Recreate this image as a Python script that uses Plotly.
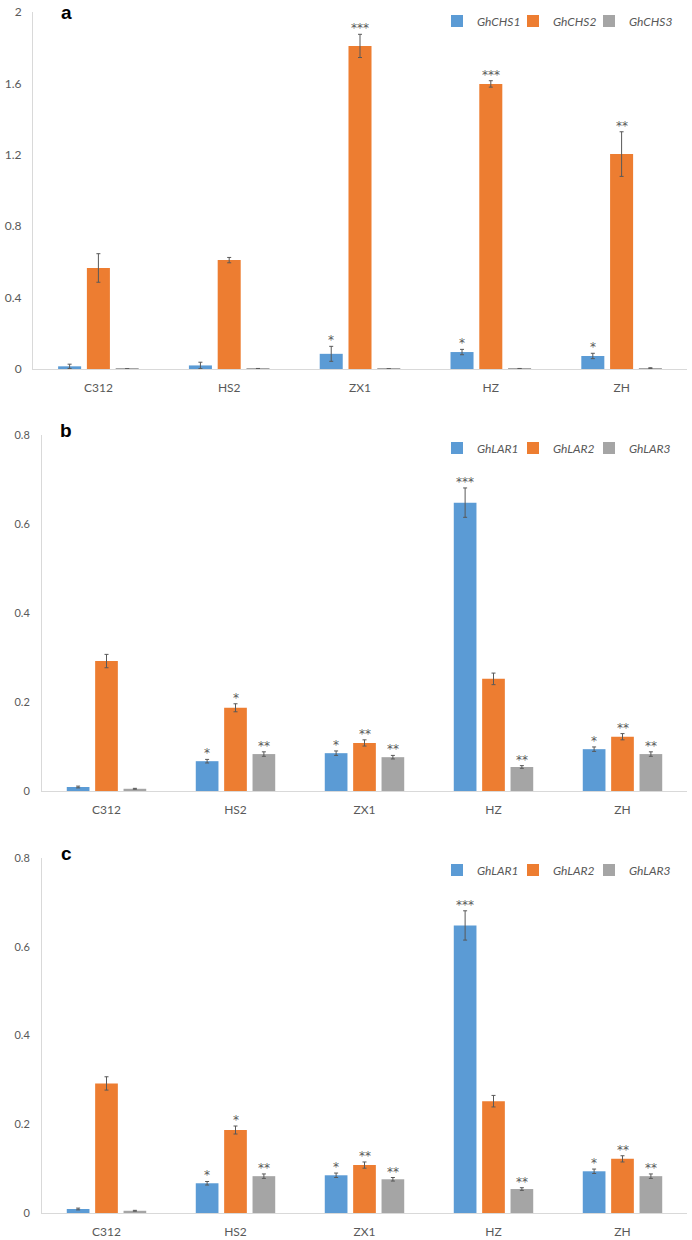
"""Grouped bar charts of GhCHS and GhLAR expression in five cotton lines."""

import plotly.graph_objects as go

CATEGORIES = ["C312", "HS2", "ZX1", "HZ", "ZH"]

# panel a
CHS1 = [0.015, 0.020, 0.085, 0.095, 0.073]
CHS1_ERR = [0.012, 0.018, 0.042, 0.015, 0.015]
CHS2 = [0.566, 0.610, 1.810, 1.597, 1.204]
CHS2_ERR = [0.080, 0.015, 0.065, 0.018, 0.125]
CHS3 = [0.001, 0.002, 0.001, 0.002, 0.005]
CHS3_ERR = [0.0, 0.001, 0.0, 0.001, 0.002]
CHS1_SIG = ["", "", "*", "*", "*"]
CHS2_SIG = ["", "", "***", "***", "**"]
CHS3_SIG = ["", "", "", "", ""]

# panels b and c
LAR1 = [0.009, 0.067, 0.085, 0.648, 0.094]
LAR1_ERR = [0.002, 0.004, 0.005, 0.033, 0.005]
LAR2 = [0.292, 0.187, 0.108, 0.252, 0.122]
LAR2_ERR = [0.015, 0.009, 0.007, 0.013, 0.007]
LAR3 = [0.005, 0.083, 0.076, 0.054, 0.083]
LAR3_ERR = [0.001, 0.005, 0.004, 0.003, 0.005]
LAR1_SIG = ["", "*", "*", "***", "*"]
LAR2_SIG = ["", "*", "**", "", "**"]
LAR3_SIG = ["", "**", "**", "**", "**"]

COLORS = ["#5B9BD5", "#ED7D31", "#A5A5A5"]
TEXT_COLOR = "#595959"
LINE_COLOR = "#D9D9D9"
FONT = "Lato, 'Open Sans', sans-serif"

W, H = 692, 1240
SLOT_PX = 28.8  # width of one bar slot inside a group

PANELS = [
    {
        "letter": "a",
        "names": ["GhCHS1", "GhCHS2", "GhCHS3"],
        "values": [CHS1, CHS2, CHS3],
        "errors": [CHS1_ERR, CHS2_ERR, CHS3_ERR],
        "sig": [CHS1_SIG, CHS2_SIG, CHS3_SIG],
        "yrange": [0, 2],
        "dtick": 0.4,
        "x_px": (33, 687),
        "y_px": (12, 369),
        "legend_y": 21,
        "letter_y": 0,
        "ytick_size": 12,
        "ystandoff": 8,
    },
    {
        "letter": "b",
        "names": ["GhLAR1", "GhLAR2", "GhLAR3"],
        "values": [LAR1, LAR2, LAR3],
        "errors": [LAR1_ERR, LAR2_ERR, LAR3_ERR],
        "sig": [LAR1_SIG, LAR2_SIG, LAR3_SIG],
        "yrange": [0, 0.8],
        "dtick": 0.2,
        "x_px": (42, 687),
        "y_px": (435, 791),
        "legend_y": 448,
        "letter_y": 418,
        "ytick_size": 11,
        "ystandoff": 9,
    },
    {
        "letter": "c",
        "names": ["GhLAR1", "GhLAR2", "GhLAR3"],
        "values": [LAR1, LAR2, LAR3],
        "errors": [LAR1_ERR, LAR2_ERR, LAR3_ERR],
        "sig": [LAR1_SIG, LAR2_SIG, LAR3_SIG],
        "yrange": [0, 0.8],
        "dtick": 0.2,
        "x_px": (42, 687),
        "y_px": (858, 1213),
        "legend_y": 870,
        "letter_y": 841,
        "ytick_size": 11,
        "ystandoff": 9,
    },
]


def _px_x(px):
    return px / W


def _px_y(px):
    return 1 - px / H


fig = go.Figure()
annotations = []
layout = {}

for p_idx, panel in enumerate(PANELS):
    suffix = "" if p_idx == 0 else str(p_idx + 1)
    xref, yref = f"x{suffix}", f"y{suffix}"
    legend_id = f"legend{suffix}"

    for s_idx, name in enumerate(panel["names"]):
        # the last legend entry gets room for its whole label
        entry_w = 50 if s_idx == len(panel["names"]) - 1 else 31
        fig.add_trace(
            go.Bar(
                x=CATEGORIES,
                y=panel["values"][s_idx],
                name=f"<i>{name}</i>",
                marker_color=COLORS[s_idx],
                marker_line_width=0,
                error_y=dict(
                    type="data",
                    array=panel["errors"][s_idx],
                    color=TEXT_COLOR,
                    thickness=1,
                    width=2,
                ),
                xaxis=xref,
                yaxis=yref,
                legend=legend_id,
                legendwidth=entry_w,
                offsetgroup=str(s_idx),
            )
        )
        for cat, val, err, mark in zip(
            CATEGORIES,
            panel["values"][s_idx],
            panel["errors"][s_idx],
            panel["sig"][s_idx],
        ):
            if not mark:
                continue
            annotations.append(
                dict(
                    x=cat,
                    y=val + err,
                    xref=xref,
                    yref=yref,
                    text=mark,
                    showarrow=False,
                    xshift=(s_idx - 1) * SLOT_PX,
                    yanchor="bottom",
                    yshift=-3,
                    font=dict(family="DejaVu Sans", size=12, color=TEXT_COLOR),
                )
            )

    x0, x1 = panel["x_px"]
    y_top, y_bot = panel["y_px"]
    layout[f"xaxis{suffix}"] = dict(
        domain=[_px_x(x0), _px_x(x1)],
        anchor=yref,
        showline=True,
        linecolor=LINE_COLOR,
        linewidth=1,
        showgrid=False,
        ticks="",
        automargin=False,
        ticklabelstandoff=8,
        tickfont=dict(family=FONT, size=12, color=TEXT_COLOR),
    )
    layout[f"yaxis{suffix}"] = dict(
        domain=[_px_y(y_bot), _px_y(y_top)],
        anchor=xref,
        range=panel["yrange"],
        dtick=panel["dtick"],
        tick0=0,
        showline=True,
        linecolor=LINE_COLOR,
        linewidth=1,
        showgrid=False,
        zeroline=False,
        ticks="",
        automargin=False,
        ticklabelstandoff=panel["ystandoff"],
        tickfont=dict(family=FONT, size=panel["ytick_size"], color=TEXT_COLOR),
    )
    layout[legend_id] = dict(
        orientation="h",
        x=_px_x(437),
        y=_px_y(panel["legend_y"]),
        xanchor="left",
        yanchor="middle",
        font=dict(family=FONT, size=12, color=TEXT_COLOR),
        bgcolor="rgba(0,0,0,0)",
        itemwidth=30,
        entrywidthmode="pixels",
        traceorder="normal",
    )
    annotations.append(
        dict(
            x=_px_x(66),
            y=_px_y(panel["letter_y"]),
            xref="paper",
            yref="paper",
            xanchor="center",
            yanchor="top",
            text=f"<b>{panel['letter']}</b>",
            showarrow=False,
            font=dict(family="Liberation Sans, Arial, sans-serif", size=19, color="black"),
        )
    )

fig.update_layout(
    **layout,
    width=W,
    height=H,
    margin=dict(l=0, r=0, t=0, b=0),
    barmode="group",
    bargap=0.34,
    bargroupgap=0.2,
    plot_bgcolor="white",
    paper_bgcolor="white",
    annotations=annotations,
    showlegend=True,
)

# the page body has an 8px default margin; drop it so the figure fills the window
fig.write_html(
    "out.html",
    config={"displayModeBar": False},
    post_script="document.body.style.margin = '0';",
)
